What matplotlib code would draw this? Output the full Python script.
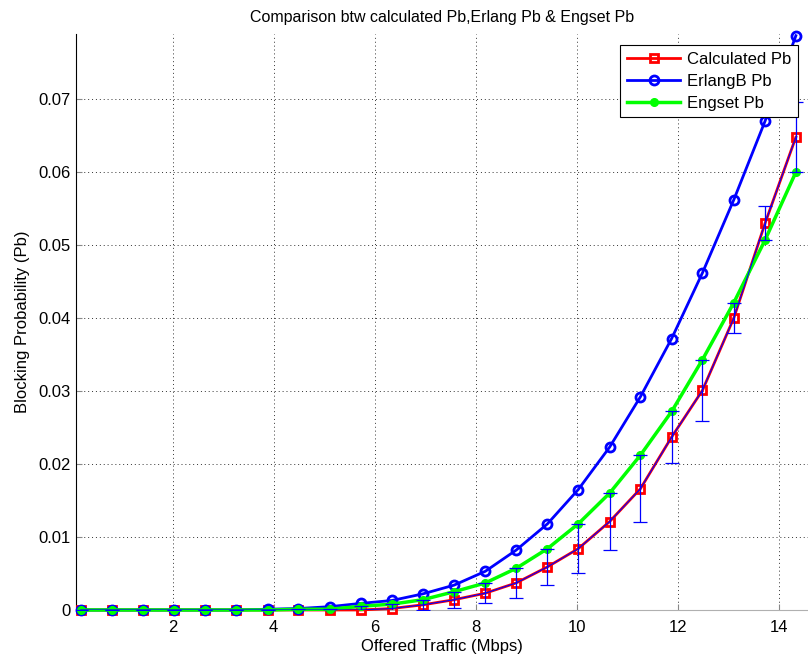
import numpy as np
import matplotlib.pyplot as plt

plt.rcParams['font.family'] = ['Liberation Sans', 'DejaVu Sans']

traffic = [0.18, 0.80, 1.41, 2.03, 2.64, 3.26, 3.88, 4.49, 5.11, 5.72, 6.34, 6.95,
           7.57, 8.19, 8.80, 9.42, 10.03, 10.65, 11.26, 11.88, 12.49, 13.11, 13.73, 14.34]
calc_pb = [0, 0, 0, 0, 0, 0, 0, 0, 0.0000, 0.0000, 0.0002, 0.0007,
           0.0014, 0.0023, 0.0037, 0.0059, 0.0084, 0.0121, 0.0166, 0.0237, 0.0301, 0.0400, 0.0530, 0.0648]
erlang_pb = [0, 0, 0, 0, 0, 0, 0.0001, 0.0002, 0.00045, 0.0009, 0.0013, 0.0022,
             0.0034, 0.0053, 0.0082, 0.0118, 0.0165, 0.0223, 0.0292, 0.0372, 0.0462, 0.0562, 0.0670, 0.0787]
engset_pb = [0, 0, 0, 0, 0, 0, 0, 0.0001, 0.0001, 0.0005, 0.0008, 0.0014,
             0.0025, 0.0037, 0.0057, 0.0084, 0.0118, 0.0160, 0.0212, 0.0272, 0.0343, 0.0421, 0.0507, 0.0600]

# error bars span from the calculated value to the Engset value (symmetric)
err = np.abs(np.array(engset_pb) - np.array(calc_pb))

fig = plt.figure(figsize=(8.08, 6.58), dpi=100)
ax = fig.add_axes([0.094, 0.073, 0.906, 0.875])

ax.plot(traffic, calc_pb, '-s', color='red', lw=2, ms=5.5, mew=2, mfc='none',
        label='Calculated Pb', clip_on=False, zorder=3)
ax.plot(traffic, erlang_pb, '-o', color='blue', lw=2, ms=6.5, mew=2, mfc='none',
        label='ErlangB Pb', clip_on=False, zorder=3)
ax.plot(traffic, engset_pb, '-o', color='#00ff00', lw=2.5, ms=5.5, mew=1,
        mfc='#00ff00', mec='#00ff00', label='Engset Pb', clip_on=False, zorder=4)
ax.errorbar(traffic, calc_pb, yerr=err, fmt='-', color='blue', lw=0.8,
            elinewidth=0.9, capsize=5, capthick=0.9, zorder=5)

ax.set_xlim(0.083, 14.58)
ax.set_ylim(0, 0.0789)
ax.set_xticks([2, 4, 6, 8, 10, 12, 14])
ax.set_yticks([0, 0.01, 0.02, 0.03, 0.04, 0.05, 0.06, 0.07])
ax.set_yticklabels(['0', '0.01', '0.02', '0.03', '0.04', '0.05', '0.06', '0.07'])
ax.grid(True, linestyle=(0, (1, 3)), color='#333333', linewidth=0.7)
ax.set_axisbelow(True)
ax.tick_params(direction='in', labelsize=12, length=4, color='#888888')
ax.tick_params(axis='x', pad=7)

ax.spines['top'].set_visible(False)
ax.spines['right'].set_visible(False)
ax.spines['bottom'].set_color('#b0b0b0')
ax.spines['left'].set_color('black')

ax.set_title('Comparison btw calculated Pb,Erlang Pb & Engset Pb', fontsize=11.5, pad=9)
ax.set_xlabel('Offered Traffic (Mbps)', fontsize=12, labelpad=3)
ax.set_ylabel('Blocking Probability (Pb)', fontsize=12, labelpad=6)

leg = ax.legend(loc='upper right', bbox_to_anchor=(0.986, 0.981), fontsize=12,
                handlelength=3.2, fancybox=False, framealpha=1, edgecolor='black',
                borderpad=0.4, labelspacing=0.42, handletextpad=0.4, borderaxespad=0)
leg.get_frame().set_linewidth(0.8)

fig.savefig('out.png', dpi=100)
